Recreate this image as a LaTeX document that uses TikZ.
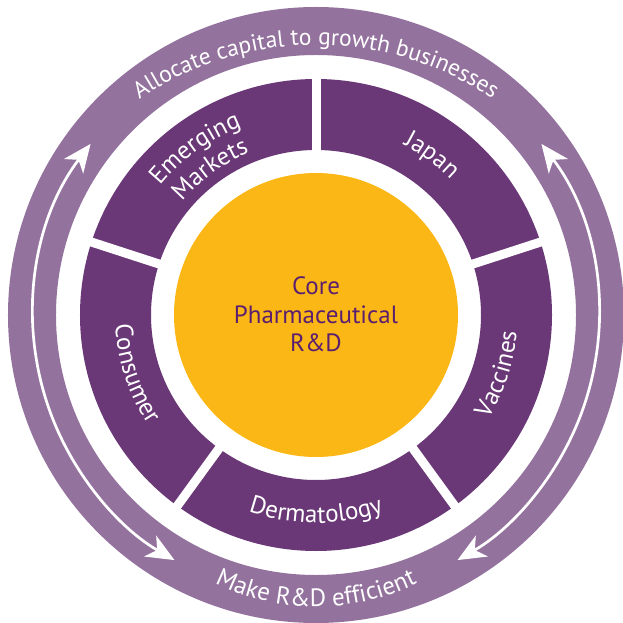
\documentclass[tikz,border=0pt]{standalone}
\usepackage{fontspec}
\setmainfont{PT Sans}
\usetikzlibrary{decorations.text,arrows.meta}
\definecolor{ringlight}{HTML}{94729E}
\definecolor{ringdark}{HTML}{6A3777}
\definecolor{coreyellow}{HTML}{FBB715}
\definecolor{coretext}{HTML}{5B1F6F}
\newcommand{\topringfont}{\fontsize{23.5}{23.5}\selectfont\color{white}}
\newcommand{\ringfont}{\fontsize{25}{25}\selectfont\color{white}}
\newcommand{\segfont}{\fontsize{25}{25}\selectfont\color{white}}
\begin{document}
\begin{tikzpicture}[x=1pt,y=1pt,
  arcarrow/.style={white, line width=2.7pt,
    {Stealth[length=28pt,width=24pt,inset=8pt]}-{Stealth[length=28pt,width=24pt,inset=8pt]}},
  gapline/.style={white, line width=9pt},
  curvedtext/.style={decorate, decoration={text along path, text align=center, text={#1}}}]
\useasboundingbox (-316,-308) rectangle (306,315);
% rings
\fill[ringlight, even odd rule] (0,0) circle[radius=308] (0,0) circle[radius=260];
\fill[ringdark, even odd rule] (0,0) circle[radius=236] (0,0) circle[radius=165];
\foreach \a in {90,18,-54,-126,162} \draw[gapline] (\a:150) -- (\a:245);
\fill[coreyellow] (0,0) circle[radius=142];
\node[text=coretext, font=\fontsize{25}{28.5}\selectfont, align=center, inner sep=0pt] (core) at (0,0.5) {Core\\Pharmaceutical\\R\&D};
% cycle arrows
\draw[arcarrow] (142.8:283) arc[start angle=142.8, end angle=240, radius=283];
\draw[arcarrow] (37.2:283) arc[start angle=37.2, end angle=-60, radius=283];
% ring texts
\path[curvedtext={|\topringfont|Allocate capital to growth businesses}]
  (0,-45) ++(140:315) arc[start angle=140, end angle=40, radius=315];
\path[curvedtext={|\ringfont|Make R{\&}D efficient}]
  (0,-62.8) ++(230:229) arc[start angle=230, end angle=310, radius=229];
% segment labels
\path[curvedtext={|\segfont|Japan}] (84:191) arc[start angle=84, end angle=24, radius=191];
\path[curvedtext={|\segfont|Emerging}] (156:202.5) arc[start angle=156, end angle=96, radius=202.5];
\path[curvedtext={|\segfont|Markets}] (156:175.5) arc[start angle=156, end angle=96, radius=175.5];
\path[curvedtext={|\segfont|Vaccines}] (-48:201.5) arc[start angle=-48, end angle=12, radius=201.5];
\path[curvedtext={|\segfont|Dermatology}] (-125:208) arc[start angle=-125, end angle=-55, radius=208];
\path[curvedtext={|\segfont|Consumer}] (168:201) arc[start angle=168, end angle=228, radius=201];
\end{tikzpicture}
\end{document}
